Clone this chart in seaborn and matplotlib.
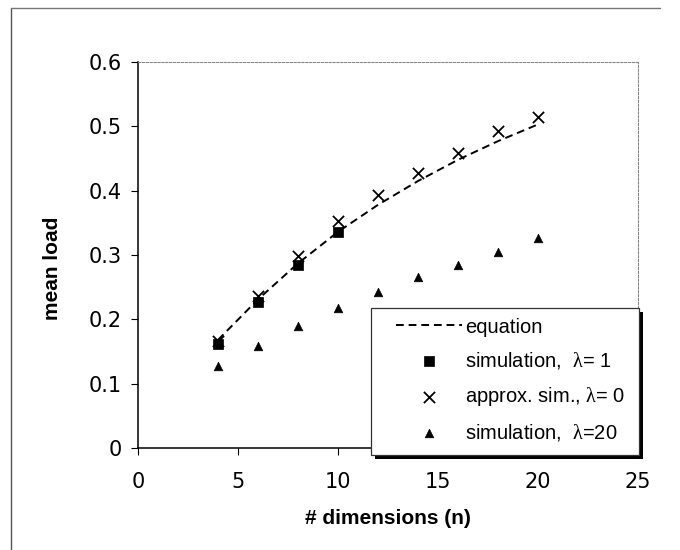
import matplotlib
matplotlib.use("Agg")
import matplotlib.pyplot as plt
import matplotlib.transforms as mtransforms
from matplotlib.patches import Rectangle
from matplotlib.lines import Line2D
import seaborn as sns
import pandas as pd

# ---- data ----
n_eq = [4, 6, 8, 10, 12, 14, 16, 18, 20]
equation = [0.168, 0.231, 0.287, 0.336, 0.378, 0.415, 0.448, 0.477, 0.503]

n_sim1 = [4, 6, 8, 10]
sim_l1 = [0.162, 0.227, 0.284, 0.335]

n_approx = [4, 6, 8, 10, 12, 14, 16, 18, 20]
approx_l0 = [0.166, 0.236, 0.298, 0.353, 0.394, 0.427, 0.459, 0.492, 0.514]

n_sim20 = [4, 6, 8, 10, 12, 14, 16, 18, 20]
sim_l20 = [0.127, 0.159, 0.189, 0.217, 0.242, 0.266, 0.284, 0.305, 0.326]

x_ticks = [0, 5, 10, 15, 20, 25]
y_ticks = [0, 0.1, 0.2, 0.3, 0.4, 0.5, 0.6]
y_ticklabels = ["0", "0.1", "0.2", "0.3", "0.4", "0.5", "0.6"]

labels = ["equation",
          "simulation,  $\\mathrm{\\lambda}$= 1",
          "approx. sim., $\\mathrm{\\lambda}$= 0",
          "simulation,  $\\mathrm{\\lambda}$=20"]

# ---- style ----
sns.set_theme(style="white")
plt.rcParams["font.family"] = ["Liberation Sans", "DejaVu Sans"]
plt.rcParams["mathtext.fontset"] = "custom"
plt.rcParams["mathtext.rm"] = "Liberation Serif"
plt.rcParams["mathtext.it"] = "Liberation Serif:italic"
plt.rcParams["mathtext.bf"] = "Liberation Serif:bold"

fig = plt.figure(figsize=(6.8, 5.5), dpi=100)
ax = fig.add_axes([138 / 680, 1 - 448 / 550, (638 - 138) / 680, (448 - 62) / 550])

df_eq = pd.DataFrame({"n": n_eq, "v": equation})
df_s1 = pd.DataFrame({"n": n_sim1, "v": sim_l1})
df_ap = pd.DataFrame({"n": n_approx, "v": approx_l0})
df_s20 = pd.DataFrame({"n": n_sim20, "v": sim_l20})

sns.lineplot(data=df_eq, x="n", y="v", ax=ax, color="black", lw=1.4,
             linestyle=(0, (4, 2.5)), label=labels[0], zorder=3)
sns.scatterplot(data=df_s1, x="n", y="v", ax=ax, marker="s", s=60, color="black",
                edgecolor="black", linewidth=0.5, label=labels[1], zorder=4)
sns.scatterplot(data=df_ap, x="n", y="v", ax=ax, marker="x", s=65, color="black",
                linewidth=1.3, label=labels[2], zorder=4)
sns.scatterplot(data=df_s20, x="n", y="v", ax=ax, marker="^", s=38, color="black",
                edgecolor="black", linewidth=0.5, label=labels[3], zorder=4)

ax.set_xlim(0, 25)
ax.set_ylim(0, 0.6)
ax.set_xticks(x_ticks)
ax.set_xticklabels([str(t) for t in x_ticks])
ax.set_yticks(y_ticks)
ax.set_yticklabels(y_ticklabels)
ax.tick_params(axis="both", direction="out", length=5, width=0.8, color="black",
               labelsize=15, labelcolor="black")
ax.tick_params(axis="x", bottom=True, pad=12.5)
ax.tick_params(axis="y", left=True, pad=6.5)
for lab in ax.get_xticklabels() + ax.get_yticklabels():
    lab.set_fontfamily(["DejaVu Sans"])

ax.set_xlabel("# dimensions (n)", fontsize=15, fontweight="bold", color="black")
ax.set_ylabel("mean load", fontsize=15, fontweight="bold", color="black")
ax.xaxis.set_label_coords(0.5, -0.157)
ax.yaxis.set_label_coords(-0.152, 0.466)

for side in ["left", "bottom"]:
    ax.spines[side].set_color("black")
    ax.spines[side].set_linewidth(1.1)
for side in ["top", "right"]:
    ax.spines[side].set_color("#8a8a8a")
    ax.spines[side].set_linewidth(0.8)
    ax.spines[side].set_linestyle((0, (2, 1.5)))

# legend box with black drop shadow
lx0, ly0, lw, lh = 0.466, -0.018, 0.536, 0.381
shadow_tr = ax.transAxes + mtransforms.ScaledTranslation(3 / 72, -3 / 72, fig.dpi_scale_trans)
ax.add_patch(Rectangle((lx0, ly0), lw, lh, transform=shadow_tr, facecolor="black",
                       edgecolor="black", lw=0, clip_on=False, zorder=5))
ax.add_patch(Rectangle((lx0, ly0), lw, lh, transform=ax.transAxes, facecolor="white",
                       edgecolor="#333333", lw=0.9, clip_on=False, zorder=6))

leg = ax.legend(loc="upper left", bbox_to_anchor=(0.516, 0.338), frameon=False,
                fontsize=14.5, handlelength=3.3, handletextpad=0.15, labelspacing=0.68,
                borderpad=0, borderaxespad=0)
leg.set_zorder(7)
for t in leg.get_texts():
    t.set_color("black")

# outer chart frame
fig.add_artist(Line2D([11 / 680, 11 / 680], [0, 1 - 8 / 550], color="#555555", lw=1.0))
fig.add_artist(Line2D([11 / 680, 660 / 680], [1 - 8 / 550, 1 - 8 / 550], color="#777777", lw=1.0))

fig.savefig("out.png", dpi=100, facecolor="white")
